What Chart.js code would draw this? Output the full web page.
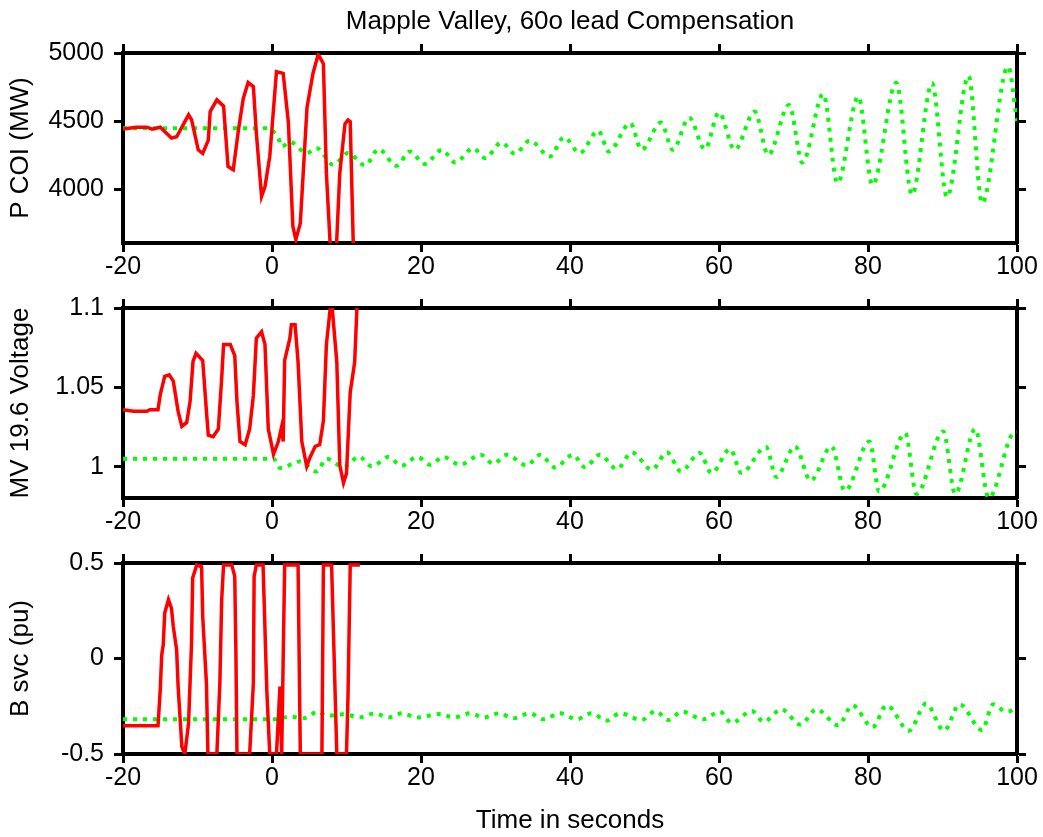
<!DOCTYPE html>
<html>
<head>
<meta charset="utf-8">
<title>Mapple Valley, 60o lead Compensation</title>
<script src="https://cdn.jsdelivr.net/npm/chart.js"></script>
<style>
  body { margin: 0; background: #fff; }
  .panel { position: absolute; left: 0; }
</style>
</head>
<body>
<canvas id="pcoi" class="panel" width="1043" height="290" style="top:0px"></canvas>
<canvas id="volt" class="panel" width="1043" height="275" style="top:270px"></canvas>
<canvas id="bsvc" class="panel" width="1043" height="312" style="top:525px"></canvas>
<script>
// time axis
const timeTicks = [-20, 0, 20, 40, 60, 80, 100];

// P COI (MW)
const pcoiTicks = [4000, 4500, 5000];
const pcoiRedT = [-20, -18.2, -16.8, -16.1, -15.0, -13.5, -12.8, -11.2, -10.8, -9.9, -9.3, -8.55, -8.3, -7.4, -6.5, -5.9, -5.2, -4.5, -3.85, -3.2, -2.5, -2.1, -1.4, -0.94, -0.3, 0.6, 1.5, 2.2, 2.8, 3.2, 3.8, 4.7, 5.5, 6.2, 6.9, 7.3, 8.0, 8.5, 9.1, 9.8, 10.2, 10.5, 11.0];
const pcoiRedV = [4441, 4455, 4455, 4441, 4455, 4375, 4385, 4546, 4510, 4289, 4262, 4360, 4570, 4656, 4610, 4167, 4143, 4436, 4668, 4783, 4753, 4412, 3947, 4020, 4240, 4863, 4850, 4490, 3727, 3630, 3750, 4600, 4850, 4990, 4922, 4118, 3400, 3400, 4118, 4480, 4508, 4496, 3400];
const pcoiGreenT = [-20, -0.7, 0.85, 1.3, 2.4, 4.66, 6.0, 8.2, 10.2, 12.5, 14.3, 16.7, 18.5, 20.5, 22.8, 24.6, 27.0, 28.6, 30.8, 32.6, 34.6, 37.3, 39.2, 41.3, 43.8, 45.2, 48.1, 49.6, 52.2, 53.8, 56.0, 58.1, 60.0, 62.1, 64.8, 66.6, 69.4, 71.2, 74.0, 75.9, 78.7, 80.6, 83.8, 85.9, 88.6, 90.6, 93.5, 95.3, 98.8, 100];
const pcoiGreenV = [4448, 4448, 4375, 4313, 4347, 4265, 4301, 4179, 4265, 4175, 4294, 4172, 4277, 4184, 4289, 4196, 4301, 4228, 4343, 4260, 4357, 4240, 4382, 4265, 4430, 4277, 4485, 4289, 4489, 4289, 4525, 4294, 4563, 4289, 4570, 4252, 4619, 4196, 4699, 4045, 4680, 4032, 4782, 3959, 4778, 3942, 4831, 3898, 4900, 4500];

// MV 19.6 Voltage
const voltTicks = [1, 1.05, 1.1];
const voltRedT = [-20, -18.6, -16.8, -16.4, -15.3, -15.0, -14.4, -13.8, -13.25, -12.6, -12.1, -11.45, -11.0, -10.6, -10.2, -9.3, -8.8, -8.55, -7.9, -7.2, -6.75, -6.5, -5.6, -5.0, -4.7, -4.3, -3.6, -3.0, -2.5, -2.1, -1.4, -0.94, -0.5, 0.2, 0.85, 1.3, 1.5, 1.7, 2.4, 2.6, 3.1, 3.5, 4.0, 4.66, 5.1, 5.8, 6.4, 6.9, 7.3, 7.8, 8.1, 8.7, 9.1, 9.6, 10.0, 10.5, 11.1, 11.4, 11.6];
const voltRedV = [1.036, 1.035, 1.035, 1.036, 1.036, 1.0455, 1.057, 1.058, 1.054, 1.035, 1.0255, 1.028, 1.041, 1.0664, 1.0715, 1.067, 1.035, 1.020, 1.019, 1.024, 1.056, 1.077, 1.077, 1.070, 1.041, 1.016, 1.014, 1.024, 1.045, 1.081, 1.085, 1.077, 1.024, 1.008, 1.016, 1.0255, 1.016, 1.067, 1.081, 1.0895, 1.0895, 1.066, 1.016, 1.0004, 1.006, 1.013, 1.014, 1.029, 1.077, 1.099, 1.099, 1.066, 1.001, 0.990, 0.996, 1.047, 1.066, 1.1, 1.12];
const voltGreenT = [-20, 0.2, 1.07, 3.8, 6.0, 7.3, 9.6, 11.7, 13.4, 15.6, 17.4, 19.5, 21.2, 23.0, 25.2, 28.0, 29.7, 31.5, 34.2, 36.0, 38.0, 40.4, 42.0, 44.0, 46.3, 48.3, 51.0, 53.0, 54.9, 57.4, 59.0, 61.5, 63.0, 66.3, 67.7, 70.2, 72.3, 75.1, 76.9, 80.2, 81.5, 85.0, 86.5, 90.1, 91.7, 94.4, 96.2, 99.5, 100];
const voltGreenV = [1.0052, 1.0052, 0.9994, 1.0035, 0.9972, 1.0052, 1.0, 1.0065, 1.0004, 1.0063, 1.0008, 1.0063, 1.0014, 1.0063, 1.0014, 1.0077, 1.002, 1.0077, 1.001, 1.0077, 0.9997, 1.0077, 0.9998, 1.0077, 0.9987, 1.0092, 0.9983, 1.0092, 0.9972, 1.0088, 0.9962, 1.0113, 0.9962, 1.0126, 0.9937, 1.013, 0.9914, 1.013, 0.985, 1.016, 0.9846, 1.0214, 0.983, 1.0224, 0.983, 1.0239, 0.9805, 1.0214, 1.022];

// B svc (pu)
const bsvcTicks = [-0.5, 0, 0.5];
const bsvcRedT = [-20, -15.3, -15.0, -14.8, -14.6, -14.4, -13.9, -13.5, -13.25, -12.8, -12.6, -12.35, -12.1, -11.7, -11.2, -11.0, -10.8, -10.65, -10.1, -9.45, -9.3, -8.8, -8.6, -7.4, -7.0, -6.75, -6.5, -5.4, -5.0, -4.85, -4.7, -3.0, -2.5, -2.4, -2.1, -1.2, -0.7, -0.3, 0.6, 1.07, 1.3, 1.7, 3.5, 3.8, 6.7, 6.9, 8.0, 8.7, 10.0, 10.2, 10.5, 11.8];
const bsvcRedV = [-0.352, -0.352, -0.164, 0.019, 0.072, 0.238, 0.308, 0.264, 0.168, 0.045, -0.147, -0.304, -0.462, -0.5, -0.34, -0.129, 0.080, 0.421, 0.49, 0.48, 0.22, -0.13, -0.5, -0.5, -0.13, 0.31, 0.49, 0.49, 0.43, 0.05, -0.5, -0.5, -0.13, 0.43, 0.49, 0.49, -0.164, -0.5, -0.5, -0.147, -0.5, 0.49, 0.49, -0.5, -0.5, 0.49, 0.49, -0.5, -0.5, -0.2, 0.49, 0.49];
const bsvcGreenT = [-20, 0.5, 2.4, 4.2, 6.2, 7.3, 9.6, 11.8, 13.8, 15.6, 17.5, 19.4, 22.6, 24.3, 26.6, 28.4, 30.5, 32.4, 34.6, 36.4, 38.7, 40.9, 42.9, 44.9, 46.7, 49.6, 51.5, 53.2, 55.0, 57.9, 60.1, 61.7, 64.4, 66.0, 68.4, 70.9, 73.1, 76.0, 77.9, 80.6, 82.5, 85.5, 87.8, 90.2, 92.3, 95.3, 96.8, 98.6, 100];
const bsvcGreenV = [-0.318, -0.318, -0.304, -0.313, -0.278, -0.300, -0.292, -0.307, -0.287, -0.309, -0.287, -0.309, -0.290, -0.309, -0.287, -0.309, -0.287, -0.313, -0.287, -0.318, -0.287, -0.318, -0.287, -0.325, -0.287, -0.322, -0.275, -0.322, -0.278, -0.318, -0.278, -0.337, -0.275, -0.331, -0.266, -0.346, -0.266, -0.350, -0.245, -0.360, -0.245, -0.378, -0.236, -0.378, -0.240, -0.375, -0.240, -0.280, -0.256];

const FONT = '"Liberation Sans", Arial, sans-serif';

function pts(t, v) {
    return t.map((x, i) => ({ x: x, y: v[i] }));
}

const gridOpts = { drawOnChartArea: false, drawTicks: true, tickLength: 9, tickWidth: 3, tickColor: '#000' };
const borderOpts = { color: '#000', width: 4 };

function makePanel(id, o) {
    const setTicks = (list) => (s) => { s.ticks = list.map(v => ({ value: v })); };
    new Chart(document.getElementById(id), {
        type: 'line',
        data: {
            datasets: [{
                data: pts(o.redT, o.redV),
                borderColor: '#ff0000',
                borderWidth: 3.5,
                pointRadius: 0,
                tension: 0
            }, {
                data: pts(o.greenT, o.greenV),
                borderColor: '#00ff00',
                borderWidth: 4,
                borderDash: [4, 6],
                pointRadius: 0,
                cubicInterpolationMode: 'monotone'
            }]
        },
        options: {
            responsive: false,
            animation: false,
            devicePixelRatio: 1,
            layout: { padding: 0 },
            plugins: {
                legend: { display: false },
                tooltip: { enabled: false },
                title: {
                    display: !!o.title,
                    text: o.title,
                    fullSize: false,
                    color: '#000',
                    font: { family: FONT, size: 26, weight: 'normal' },
                    padding: { top: 6, bottom: 6 }
                }
            },
            scales: {
                x: {
                    type: 'linear', position: 'bottom', min: -20, max: 100,
                    afterBuildTicks: setTicks(timeTicks),
                    afterFit: (s) => { s.height = o.bottomH; },
                    ticks: { color: '#000', font: { family: FONT, size: 25, lineHeight: 1 }, padding: 3, maxRotation: 0, autoSkip: false, callback: (v) => String(v) },
                    title: {
                        display: !!o.xTitle, text: o.xTitle, color: '#000',
                        font: { family: FONT, size: 26 }, padding: { top: 0, bottom: 1 }
                    },
                    grid: gridOpts, border: borderOpts
                },
                x2: {
                    type: 'linear', position: 'top', min: -20, max: 100,
                    afterBuildTicks: setTicks(timeTicks),
                    afterFit: (s) => { s.height = o.topH; },
                    ticks: { display: false },
                    grid: gridOpts, border: borderOpts
                },
                y: {
                    type: 'linear', position: 'left', min: o.yMin, max: o.yMax,
                    afterBuildTicks: setTicks(o.yTicks),
                    afterFit: (s) => { s.width = 123; },
                    ticks: { color: '#000', font: { family: FONT, size: 25 }, padding: 10, autoSkip: false, callback: (v) => String(v) },
                    title: {
                        display: true, text: o.yLabel, color: '#000',
                        font: { family: FONT, size: 26 }, padding: { top: 5, bottom: 0 }
                    },
                    grid: gridOpts, border: borderOpts
                },
                y2: {
                    type: 'linear', position: 'right', min: o.yMin, max: o.yMax,
                    afterBuildTicks: setTicks(o.yTicks),
                    afterFit: (s) => { s.width = 26; },
                    ticks: { display: false },
                    grid: gridOpts, border: borderOpts
                }
            }
        }
    });
}

makePanel('pcoi', {
    redT: pcoiRedT, redV: pcoiRedV, greenT: pcoiGreenT, greenV: pcoiGreenV,
    yMin: 3605, yMax: 5000, yTicks: pcoiTicks, yLabel: 'P COI (MW)',
    title: 'Mapple Valley, 60o lead Compensation', topH: 9.8, bottomH: 47
});

makePanel('volt', {
    redT: voltRedT, redV: voltRedV, greenT: voltGreenT, greenV: voltGreenV,
    yMin: 0.9805, yMax: 1.1, yTicks: voltTicks, yLabel: 'MV 19.6 Voltage',
    topH: 38, bottomH: 47
});

makePanel('bsvc', {
    redT: bsvcRedT, redV: bsvcRedV, greenT: bsvcGreenT, greenV: bsvcGreenV,
    yMin: -0.5, yMax: 0.5, yTicks: bsvcTicks, yLabel: 'B svc (pu)',
    xTitle: 'Time in seconds', topH: 38, bottomH: 83
});
</script>
</body>
</html>
